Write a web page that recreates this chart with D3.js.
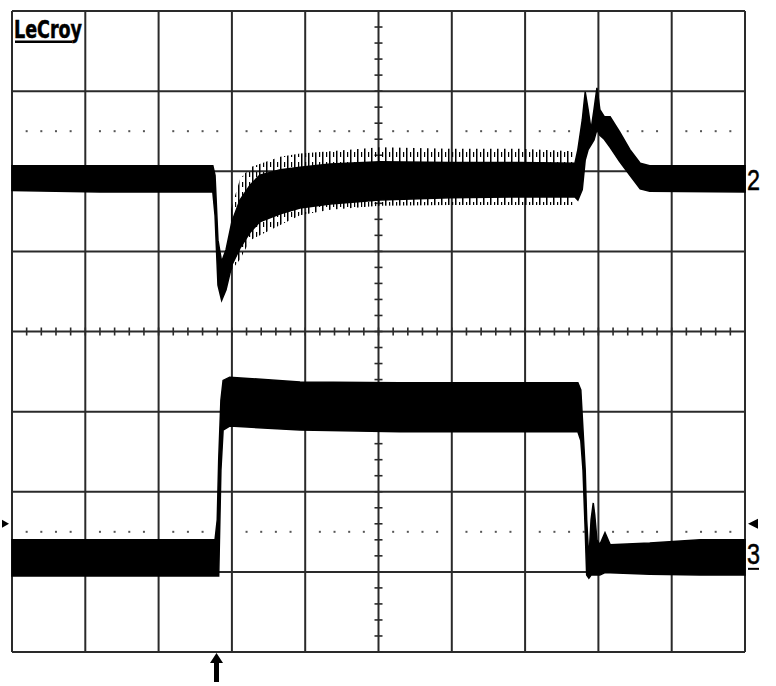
<!DOCTYPE html>
<html><head><meta charset="utf-8">
<script src="https://cdn.jsdelivr.net/npm/d3@7"></script>
<style>html,body{margin:0;padding:0;background:#fff;}svg{display:block;}</style>
</head><body>
<svg id="c" width="776" height="686"></svg>
<script>
// time in divisions (0..10), amplitude in divisions (-4..4)
const ch2Time = [0,1.20,2.74,2.77,2.81,2.86,2.92,3.00,3.11,3.25,3.38,3.66,3.93,4.34,5.02,5.98,6.93,7.68,7.72,7.78,7.82,7.86,7.90,7.94,7.98,8.02,8.08,8.16,8.29,8.43,8.57,8.70,10];
const ch2Top  = [2.07,2.07,2.07,1.95,1.14,0.87,1.02,1.37,1.64,1.83,1.95,2.02,2.05,2.09,2.12,2.11,2.11,2.10,2.27,2.64,2.99,2.77,2.52,2.77,3.04,2.77,2.68,2.68,2.49,2.27,2.10,2.07,2.07];
const ch2Bot  = [1.76,1.74,1.74,1.45,0.58,0.39,0.52,0.83,1.04,1.24,1.37,1.47,1.54,1.59,1.64,1.67,1.68,1.68,1.64,1.77,2.14,2.27,2.33,2.39,2.52,2.45,2.40,2.30,2.12,1.95,1.78,1.75,1.74];
const ch2FringeTime = [2.98,3.11,3.25,3.66,3.93,4.34,5.02,5.98,6.93,7.66];
const ch2FringeTop  = [1.50,1.90,2.05,2.18,2.22,2.25,2.30,2.28,2.28,2.25];
const ch2FringeBot  = [0.75,0.90,1.14,1.33,1.45,1.52,1.57,1.58,1.58,1.58];
const ch3Time = [0,2.77,2.80,2.82,2.85,2.88,2.97,3.93,5.29,6.66,7.72,7.76,7.79,7.82,7.84,7.87,7.90,7.93,7.95,7.98,8.02,8.09,8.16,8.70,9.39,10];
const ch3Top  = [-2.60,-2.60,-2.35,-1.60,-0.86,-0.61,-0.57,-0.63,-0.64,-0.64,-0.64,-0.73,-1.23,-1.73,-2.35,-2.85,-2.35,-2.14,-2.29,-2.60,-2.66,-2.51,-2.66,-2.64,-2.60,-2.60];
const ch3Bot  = [-3.05,-3.05,-3.05,-3.05,-1.73,-1.23,-1.18,-1.23,-1.25,-1.25,-1.25,-1.36,-1.73,-2.48,-3.04,-3.08,-3.04,-3.04,-3.04,-3.04,-3.04,-3.01,-3.01,-3.03,-3.04,-3.04];
const xDivs = [0,1,2,3,4,5,6,7,8,9,10];
const yDivs = [-4,-3,-2,-1,0,1,2,3,4];
const minorTicks = d3.range(0, 10.001, 0.2);
const minorTicksY = d3.range(-4, 4.001, 0.2);
const cursorLevels = [2.5, -2.5];
const brand = "LeCroy";
const chLabels = [{name:"2", level:1.92}, {name:"3", level:-2.75}];

const svg = d3.select("#c");
const x = d3.scaleLinear().domain([0,10]).range([12,745]);
const y = d3.scaleLinear().domain([-4,4]).range([652,11]);
const ink = "#000";
const gridCol = "#2a2a2a";

const defs = svg.append("defs");
const pat = defs.append("pattern").attr("id", "noise").attr("patternUnits", "userSpaceOnUse")
  .attr("width", 7).attr("height", 10);
pat.append("rect").attr("x", 0).attr("y", 0).attr("width", 1.5).attr("height", 10).attr("fill", ink);
pat.append("rect").attr("x", 4).attr("y", 2).attr("width", 1.2).attr("height", 5).attr("fill", ink);

// grid
const g = svg.append("g");
g.selectAll(".vl").data(xDivs).join("line")
  .attr("x1", d=>x(d)).attr("x2", d=>x(d)).attr("y1", y(4)).attr("y2", y(-4))
  .attr("stroke", gridCol).attr("stroke-width", 2);
g.selectAll(".hl").data(yDivs).join("line")
  .attr("y1", d=>y(d)).attr("y2", d=>y(d)).attr("x1", x(0)).attr("x2", x(10))
  .attr("stroke", gridCol).attr("stroke-width", 2);
g.selectAll(".tx").data(minorTicks).join("line")
  .attr("x1", d=>x(d)).attr("x2", d=>x(d)).attr("y1", y(0)-4).attr("y2", y(0)+4)
  .attr("stroke", gridCol).attr("stroke-width", 1.6);
g.selectAll(".ty").data(minorTicksY).join("line")
  .attr("y1", d=>y(d)).attr("y2", d=>y(d)).attr("x1", x(5)-4).attr("x2", x(5)+4)
  .attr("stroke", gridCol).attr("stroke-width", 1.6);
cursorLevels.forEach(lv => {
  g.selectAll(null).data(minorTicks.filter(t => Math.abs(t - Math.round(t)) > 0.05)).join("rect")
    .attr("x", d=>x(d)-1).attr("y", y(lv)-1).attr("width", 2).attr("height", 2)
    .attr("fill", "#555");
});

// traces
const area = (tt, top, bot) => d3.area()
  .x((d,i)=>x(tt[i])).y0((d,i)=>y(bot[i])).y1((d,i)=>y(top[i]))
  .curve(d3.curveLinear)(tt);
svg.append("path").attr("d", area(ch2FringeTime, ch2FringeTop, ch2FringeBot)).attr("fill", "url(#noise)");
svg.append("path").attr("d", area(ch2Time, ch2Top, ch2Bot)).attr("fill", ink).attr("stroke", ink).attr("stroke-width", 1.5);
svg.append("path").attr("d", area(ch3Time, ch3Top, ch3Bot)).attr("fill", ink).attr("stroke", ink).attr("stroke-width", 1.5);

// brand
svg.append("text").attr("x", 14).attr("y", 38).text(brand)
  .attr("font-family", "DejaVu Sans Condensed, DejaVu Sans").attr("font-weight", "bold")
  .attr("font-size", 25).attr("textLength", 68).attr("lengthAdjust", "spacingAndGlyphs")
  .attr("fill", ink).attr("stroke", ink).attr("stroke-width", 0.5);
svg.append("rect").attr("x", 15).attr("y", 40.5).attr("width", 57).attr("height", 2.5).attr("fill", ink);

// channel labels
chLabels.forEach(c => {
  svg.append("text").attr("x", 747).attr("y", y(c.level) + 12).text(c.name)
    .attr("font-family", "Liberation Sans, Arial").attr("font-size", 30)
    .attr("textLength", 13).attr("lengthAdjust", "spacingAndGlyphs").attr("fill", ink)
    .attr("stroke", ink).attr("stroke-width", 0.5);
});
svg.append("rect").attr("x", 748).attr("y", y(-2.75) + 16).attr("width", 11).attr("height", 2).attr("fill", ink);

// level markers
svg.append("path").attr("d", `M2,${y(-2.4)-4} L9,${y(-2.4)} L2,${y(-2.4)+4} Z`).attr("fill", ink);
svg.append("path").attr("d", `M758,${y(-2.4)-5} L748,${y(-2.4)} L758,${y(-2.4)+5} Z`).attr("fill", ink);

// trigger arrow
const tx = x(2.79);
svg.append("path").attr("d", `M${tx},653 L${tx+6.5},663 L${tx+2.5},663 L${tx+2.5},682 L${tx-2.5},682 L${tx-2.5},663 L${tx-6.5},663 Z`).attr("fill", ink);
</script>
</body></html>
